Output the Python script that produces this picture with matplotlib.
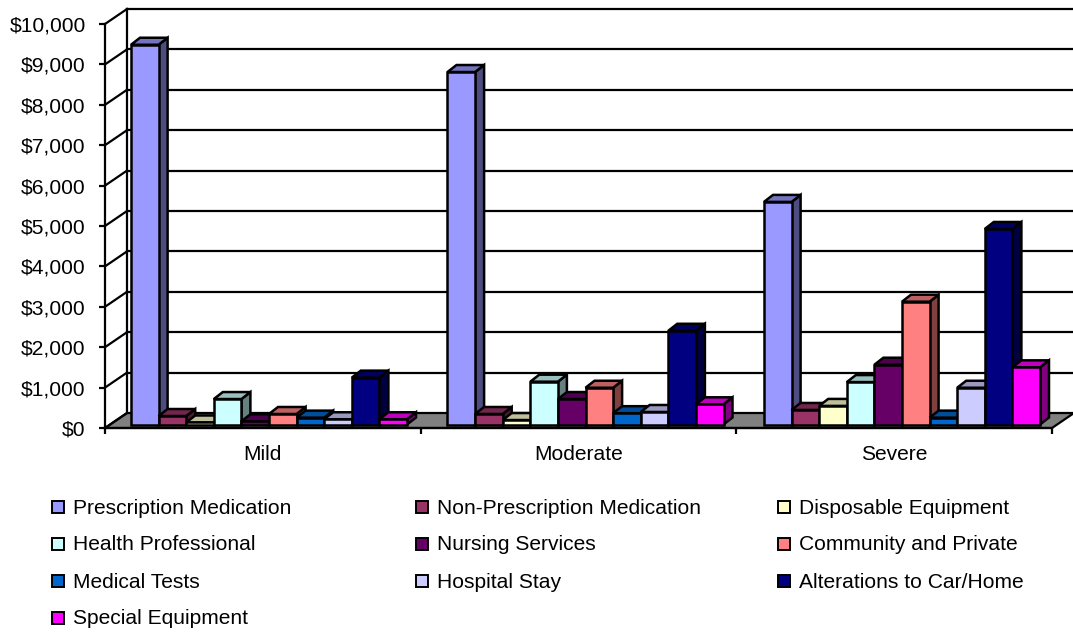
import matplotlib
matplotlib.use('Agg')
import matplotlib.pyplot as plt
from matplotlib.colors import to_rgb
from matplotlib.patches import Rectangle
from matplotlib.ticker import FuncFormatter

plt.rcParams['font.family'] = ['Liberation Sans', 'DejaVu Sans']

categories = ['Mild', 'Moderate', 'Severe']
series = ['Prescription Medication', 'Non-Prescription Medication', 'Disposable Equipment',
          'Health Professional', 'Nursing Services', 'Community and Private',
          'Medical Tests', 'Hospital Stay', 'Alterations to Car/Home', 'Special Equipment']
colors = ['#9999FF', '#993366', '#FFFFCC', '#CCFFFF', '#660066',
          '#FF8080', '#0066CC', '#CCCCFF', '#000080', '#FF00FF']
mild = [9400, 210, 50, 630, 80, 260, 170, 130, 1160, 130]
moderate = [8725, 260, 110, 1060, 630, 910, 280, 310, 2320, 500]
severe = [5510, 360, 460, 1050, 1480, 3040, 170, 910, 4840, 1415]
values = [mild, moderate, severe]

W, H = 1073, 632
fig = plt.figure(figsize=(W / 100, H / 100), dpi=100)
ax = fig.add_axes([105 / W, 1 - 428 / H, 947 / W, 404 / H])
ax.set_xlim(0, 3)
ax.set_ylim(0, 10000)
ax.patch.set_visible(False)

# pixel -> data sizes, for the fake 3d depth
px_x = 3 / 947
px_y = 10000 / 404
wall_dx = 22 * px_x
wall_dy = 15 * px_y
bar_dx = 9 * px_x
bar_dy = 7 * px_y
lw = 1.6
bar_lw = 1.8
fs = 15.1

for s in ax.spines.values():
    s.set_visible(False)
ax.spines['left'].set_visible(True)
ax.spines['left'].set_linewidth(lw)

# floor
ax.fill([0, 3, 3 + wall_dx, wall_dx], [0, 0, wall_dy, wall_dy], facecolor='#808080',
        edgecolor='black', lw=lw, clip_on=False, zorder=1)

# back wall grid + side wall diagonals
ticks = list(range(0, 11000, 1000))
for t in ticks:
    if t > 0:
        ax.plot([wall_dx, 3 + wall_dx], [t + wall_dy, t + wall_dy], color='black', lw=lw,
                clip_on=False, zorder=1)
    ax.plot([0, wall_dx], [t, t + wall_dy], color='black', lw=lw, clip_on=False, zorder=1)
ax.plot([wall_dx, wall_dx], [wall_dy, 10000 + wall_dy], color='black', lw=lw, clip_on=False, zorder=1)
ax.plot([0, 3], [0, 0], color='black', lw=lw, clip_on=False, zorder=2)


def shade(c, f):
    r, g, b = to_rgb(c)
    return (r * f, g * f, b * f)


# bars, left to right so the next bar hides the side of the last
base = 3.5 * px_y
start = 26 * px_x
step = 316.5 * px_x
bar_w = 27.6 * px_x
z = 3
for i, group in enumerate(values):
    for j, v in enumerate(group):
        x0 = start + i * step + j * bar_w
        x1 = x0 + bar_w
        top = base + v
        ax.fill([x1, x1 + bar_dx, x1 + bar_dx, x1], [base, base + bar_dy, top + bar_dy, top],
                facecolor=shade(colors[j], 0.5), edgecolor='black', lw=bar_lw, clip_on=False, zorder=z)
        ax.fill([x0, x1, x1 + bar_dx, x0 + bar_dx], [top, top, top + bar_dy, top + bar_dy],
                facecolor=shade(colors[j], 0.75), edgecolor='black', lw=bar_lw, clip_on=False, zorder=z)
        ax.bar(x0, v, bar_w, bottom=base, align='edge', color=colors[j], edgecolor='black',
               lw=bar_lw, clip_on=False, zorder=z + 1)
        z += 2

ax.set_yticks(ticks)
ax.yaxis.set_major_formatter(FuncFormatter(lambda v, p: '${:,.0f}'.format(v)))
ax.set_xticks([0, 1, 2, 3])
ax.set_xticklabels([])
ax.set_xticks([0.5, 1.5, 2.5], categories, minor=True)
ax.tick_params(axis='both', which='major', length=4, width=lw, labelsize=fs)
ax.tick_params(axis='y', which='major', pad=10)
ax.tick_params(axis='x', which='minor', length=0, labelsize=fs, pad=12)

# legend is laid out by hand, columns are not even
col_x = [52, 416, 778]
row_y = [507, 544, 581, 618]
for k, name in enumerate(series):
    x = col_x[k % 3]
    y = row_y[k // 3]
    fig.add_artist(Rectangle((x / W, 1 - (y + 6) / H), 12 / W, 12 / H, transform=fig.transFigure,
                             facecolor=colors[k], edgecolor='black', lw=1.4))
    fig.text((x + 21) / W, 1 - (y + 1) / H, name, fontsize=fs, va='center', ha='left')

plt.savefig('out.png', dpi=100)
